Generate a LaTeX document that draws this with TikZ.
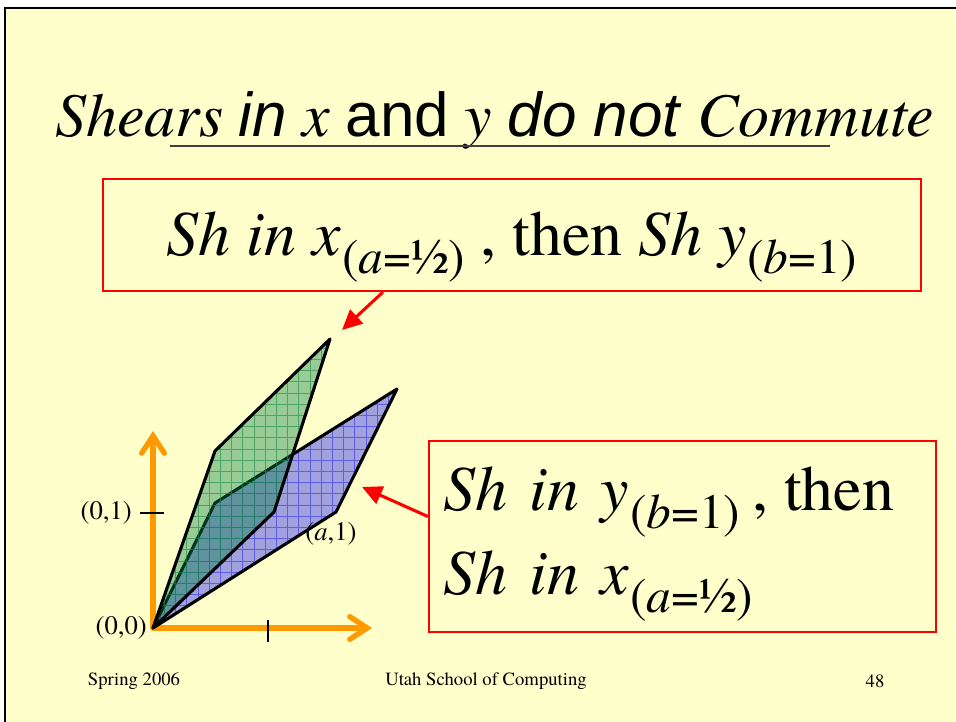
\documentclass[tikz,border=0pt]{standalone}
\usepackage{fontspec}
\setmainfont{texgyretermes}[Extension=.otf,UprightFont=*-regular,ItalicFont=*-italic,
  BoldFont=*-bold,BoldItalicFont=*-bolditalic]
\setsansfont{Liberation Sans}
\usepackage{xcolor}
\definecolor{slideyellow}{RGB}{255,255,204}
\definecolor{axisorange}{RGB}{255,153,0}
\definecolor{shgreen}{RGB}{0,128,64}
\definecolor{shblue}{RGB}{0,0,255}
\definecolor{gridgreen}{RGB}{20,140,70}
\definecolor{gridblue}{RGB}{50,50,235}
\usepackage{tikz}
\usetikzlibrary{positioning,arrows.meta,calc}
\newcommand{\lowsub}[1]{\raisebox{-14pt}{\fontsize{37}{37}\selectfont #1}}
\tikzset{
  redbox/.style  ={rectangle,draw=red,line width=1.6pt,fill=slideyellow,inner ysep=0pt,
                   font=\fontsize{48}{63}\selectfont},
  pointer/.style ={-{Triangle[length=15pt,width=14pt]},draw=red,line width=2.3pt},
  axis/.style    ={-{Straight Barb[length=13pt,width=17pt,line cap=round]},draw=axisorange,
                   line width=4pt,line cap=round},
  tick/.style    ={draw=black,line width=1.5pt},
  outline/.style ={draw=black,line width=2.3pt,line join=round},
  label/.style   ={font=\fontsize{20}{22}\selectfont,inner sep=0pt},
  footer/.style  ={font=\fontsize{14}{16}\selectfont,inner sep=0pt},
}
\begin{document}
\begin{tikzpicture}[x=0.75pt,y=-0.75pt]
  \useasboundingbox (0,0) rectangle (956,721);
  \clip (0,0) rectangle (956,721);
  % ---- slide ------------------------------------------------------------
  \fill[white] (0,0) rectangle (956,721);
  \draw[fill=slideyellow,line width=1.5pt] (5,8) rectangle (980,760);

  % ---- title ------------------------------------------------------------
  \node[anchor=base west,inner sep=0pt,font=\fontsize{46.5}{50}\selectfont] (title) at (55,136)
    {\textit{Shears} \textsf{\textit{in}} \textit{x} \textsf{and} \textit{y} \textsf{\textit{do not}} \textit{Commute}};
  \draw[line width=2.2pt,black!75] (170,146) -- (830,146);

  % ---- axes ---------------------------------------------------------------
  \coordinate (O) at (153,628);
  \coordinate (xend) at (372,628);
  \coordinate (yend) at (153,431);
  \draw[axis] (O) -- (yend);
  \draw[axis] (O) -- (xend);
  \draw[tick] (140,513) -- (164,513);
  \draw[tick] (268,620) -- (268,642);

  % ---- sheared squares ----------------------------------------------------
  \coordinate (b1) at (215,503);
  \coordinate (b2) at (397,389);
  \coordinate (b3) at (336,512);
  \coordinate (g1) at (215,451);
  \coordinate (g2) at (330,339);
  \coordinate (g3) at (274,512);
  \fill[shblue,fill opacity=0.37] (O) -- (b1) -- (b2) -- (b3) -- cycle;
  \begin{scope}
    \clip (O) -- (b1) -- (b2) -- (b3) -- cycle;
    \draw[gridblue,draw opacity=0.6,line width=0.4pt,shift={(O)}] (-5,5) grid[step=8.4pt] (260,-310);
  \end{scope}
  \draw[outline] (O) -- (b1) -- (b2) -- (b3) -- cycle;
  \fill[shgreen,fill opacity=0.4] (O) -- (g1) -- (g2) -- (g3) -- cycle;
  \begin{scope}
    \clip (O) -- (g1) -- (g2) -- (g3) -- cycle;
    \draw[gridgreen,draw opacity=0.6,line width=0.4pt,shift={(O)}] (-5,5) grid[step=8.4pt] (260,-310);
  \end{scope}
  \draw[outline] (O) -- (g1) -- (g2) -- (g3) -- cycle;

  \node[label,anchor=east] (l01) at (132,513) {(0,1)};
  \node[label,anchor=east] (l00) at (147,628) {(0,0)};
  \node[label] (la1) at (331,534) {(\textit{a},1)};

  % ---- boxes ------------------------------------------------------------------
  \node[redbox,minimum width=613.5pt,minimum height=84pt,text height=57pt,text depth=27pt]
    (tbox) at (512,235)
    {\textit{Sh in x}\kern1pt\lowsub{(\textit{a}=½)} , then \textit{Sh y}\lowsub{(\textit{b}=1)}};
  \node[redbox,anchor=north west,minimum width=380.25pt,minimum height=143.25pt,
        text width=358pt,inner xsep=11pt,align=left,text height=51.75pt,text depth=91.5pt]
    (rbox) at (428,440)
    {\textit{Sh in y}\kern1pt\lowsub{(\textit{b}=1)}\kern9pt,\kern12pt then\\
     \textit{Sh in x}\kern1pt\lowsub{(\textit{a}=½)}};

  \coordinate (gtip) at (342,330);
  \coordinate (btip) at (362,487);
  \draw[pointer] ($(tbox.south)+(-129,0)$) -- (gtip);
  \draw[pointer] ($(rbox.west)+(0,-20)$) -- (btip);

  % ---- footer -----------------------------------------------------------
  \node[footer] (season) at (134,681) {Spring 2006};
  \node[footer] (school) at (486,681) {Utah School of Computing};
  \node[footer] (page) at (875,681) {48};
\end{tikzpicture}
\end{document}
